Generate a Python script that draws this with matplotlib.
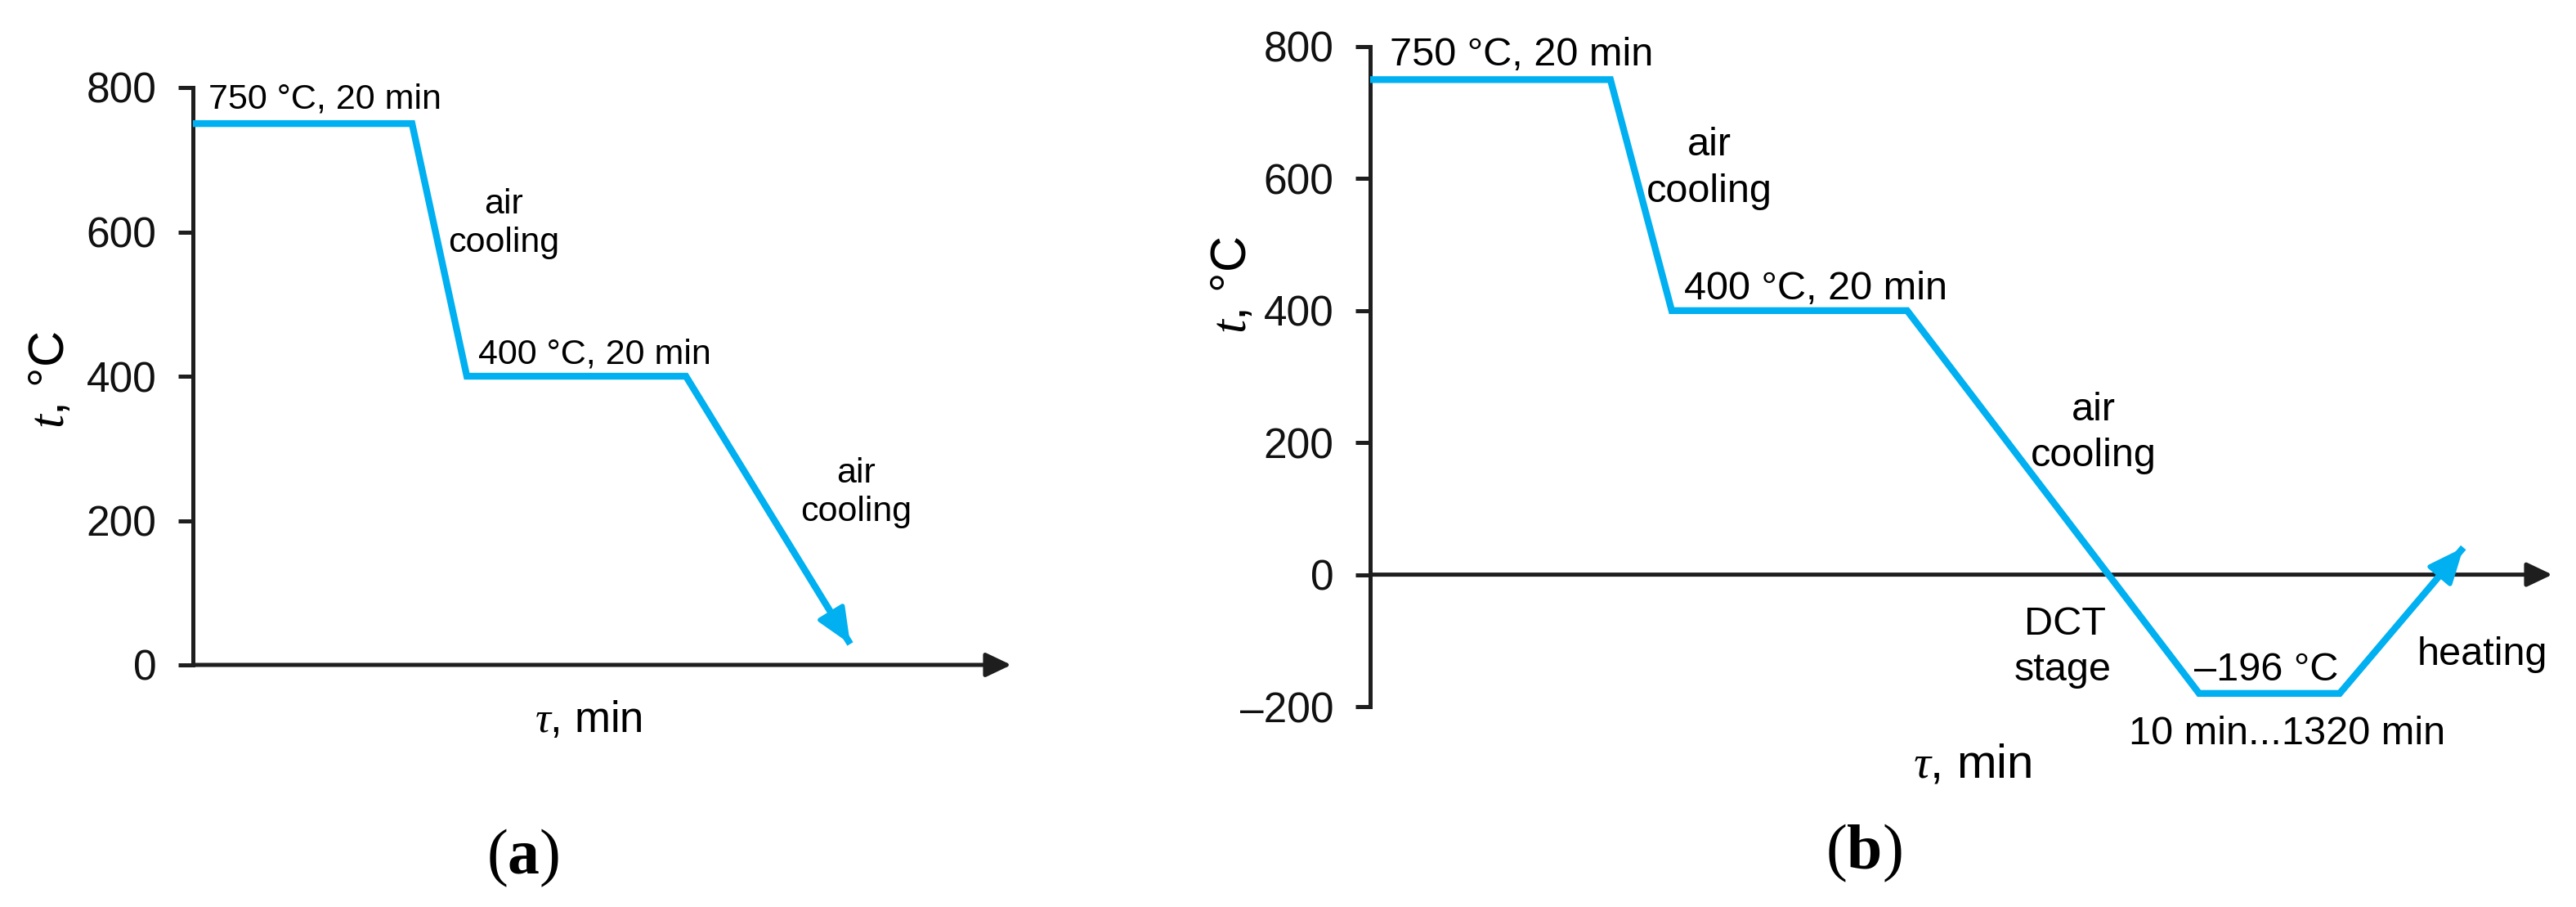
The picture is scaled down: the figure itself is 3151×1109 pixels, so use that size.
import matplotlib
matplotlib.use("Agg")
import matplotlib.pyplot as plt

# ---------------- data ----------------
tau_a = [0, 20, 25, 45, 60]
temp_a = [750, 750, 400, 400, 29]
xmax_a = 74.7

tau_b = [0, 20, 25.1, 44.7, 69, 80.7, 91]
temp_b = [750, 750, 400, 400, -180, -180, 41]
xmax_b = 98.4

yticks_a = [0, 200, 400, 600, 800]
yticklabels_a = ["0", "200", "400", "600", "800"]
yticks_b = [-200, 0, 200, 400, 600, 800]
yticklabels_b = ["\u2013200", "0", "200", "400", "600", "800"]

# ---------------- style ----------------
W, H, DPI = 3151, 1109, 100
BLUE = "#00B0F0"
AXC = "#1e1e1e"
plt.rcParams["font.family"] = ["Liberation Sans", "DejaVu Sans"]
plt.rcParams["mathtext.fontset"] = "custom"
plt.rcParams["mathtext.it"] = "Liberation Serif:italic"
plt.rcParams["mathtext.rm"] = "Liberation Sans"
plt.rcParams["mathtext.bf"] = "Liberation Serif:bold"

fig = plt.figure(figsize=(W / DPI, H / DPI), dpi=DPI)

def ftext(x, y, s, **kw):
    fig.text(x / W, 1 - y / H, s, **kw)

def setup(ax, xmax, ylo, yhi, ticks, labels):
    ax.set_xlim(0, xmax)
    ax.set_ylim(ylo, yhi)
    for s in ("top", "right", "bottom"):
        ax.spines[s].set_visible(False)
    ax.spines["left"].set_linewidth(3.6)
    ax.spines["left"].set_color(AXC)
    ax.spines["left"].set_bounds(ylo, yhi)
    ax.set_xticks([])
    ax.set_yticks(ticks)
    ax.set_yticklabels(labels)
    ax.tick_params(axis="y", direction="out", length=13, width=3.6, pad=19,
                   labelsize=37, color=AXC, labelcolor="#111111")
    ax.patch.set_visible(False)
    # x axis arrow along t = 0
    ax.annotate("", xy=(xmax, 0), xytext=(0, 0), annotation_clip=False,
                arrowprops=dict(arrowstyle="-|>,head_length=1.05,head_width=0.5",
                                lw=3.6, color=AXC, shrinkA=0, shrinkB=0,
                                mutation_scale=18), zorder=2)

def profile(ax, tau, temp):
    ax.plot(tau, temp, color=BLUE, lw=6, solid_joinstyle="miter",
            solid_capstyle="butt", clip_on=False, zorder=3)
    ax.annotate("", xy=(tau[-1], temp[-1]), xytext=(tau[-2], temp[-2]),
                annotation_clip=False,
                arrowprops=dict(arrowstyle="-|>,head_length=1.5,head_width=0.65",
                                lw=4, color=BLUE, shrinkA=0, shrinkB=0,
                                mutation_scale=18), zorder=3)

# ---------------- panel (a) ----------------
ax_a = fig.add_axes([236 / W, 1 - 813 / H, 1001 / W, 706 / H])
setup(ax_a, xmax_a, 0, 800, yticks_a, yticklabels_a)
profile(ax_a, tau_a, temp_a)

fa = 31
ftext(255, 133, "750 \u00b0C, 20 min", fontsize=fa, ha="left", va="baseline")
ftext(616, 261, "air", fontsize=fa, ha="center", va="baseline")
ftext(616, 308, "cooling", fontsize=fa, ha="center", va="baseline")
ftext(585, 445, "400 \u00b0C, 20 min", fontsize=fa, ha="left", va="baseline")
ftext(1047, 590, "air", fontsize=fa, ha="center", va="baseline")
ftext(1047, 637, "cooling", fontsize=fa, ha="center", va="baseline")
ftext(720, 895, r"$\tau$, min", fontsize=38, ha="center", va="baseline")
ftext(62, 464, "$t$, \u00b0C", fontsize=44, ha="center", va="center", rotation=90)
ftext(640, 1068, r"($\mathbf{a}$)", fontsize=56, ha="center", va="baseline",
      family="Liberation Serif")

# ---------------- panel (b) ----------------
ax_b = fig.add_axes([1676 / W, 1 - 864 / H, 1446 / W, 807 / H])
setup(ax_b, xmax_b, -200, 800, yticks_b, yticklabels_b)
profile(ax_b, tau_b, temp_b)

fb = 35
ftext(1700, 80, "750 \u00b0C, 20 min", fontsize=fb, ha="left", va="baseline")
ftext(2091, 190, "air", fontsize=fb, ha="center", va="baseline")
ftext(2091, 247, "cooling", fontsize=fb, ha="center", va="baseline")
ftext(2060, 366, "400 \u00b0C, 20 min", fontsize=fb, ha="left", va="baseline")
ftext(2561, 514, "air", fontsize=fb, ha="center", va="baseline")
ftext(2561, 570, "cooling", fontsize=fb, ha="center", va="baseline")
ftext(2526, 776, "DCT", fontsize=fb, ha="center", va="baseline")
ftext(2523, 832, "stage", fontsize=fb, ha="center", va="baseline")
ftext(2772, 832, "\u2013196 \u00b0C", fontsize=fb, ha="center", va="baseline")
ftext(2798, 910, "10 min...1320 min", fontsize=fb, ha="center", va="baseline")
ftext(3036, 813, "heating", fontsize=fb, ha="center", va="baseline")
ftext(2413, 950, r"$\tau$, min", fontsize=42, ha="center", va="baseline")
ftext(1508, 348, "$t$, \u00b0C", fontsize=44, ha="center", va="center", rotation=90)
ftext(2280, 1062, r"($\mathbf{b}$)", fontsize=56, ha="center", va="baseline",
      family="Liberation Serif")

fig.savefig("out.png", dpi=DPI, facecolor="white")
